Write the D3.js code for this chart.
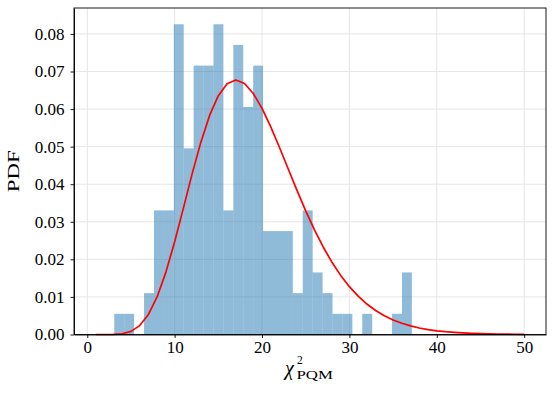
<!DOCTYPE html>
<meta charset="utf-8">
<style>
body { margin: 0; background: #fff; }
.grid line { stroke: #e6e6e6; stroke-width: 1; }
.axis path, .axis line { stroke: #000; stroke-width: 0.9; }
</style>
<svg width="555" height="397"></svg>
<script src="https://d3js.org/d3.v7.min.js"></script>
<script>

// histogram: 30 equal bins between binMin and binMax, counts per bin
var binMin = 3.09,
    binMax = 37.15;
var binCounts = [1, 1, 0, 2, 6, 6, 15, 9, 13, 13, 15, 6, 14, 11, 13,
                 5, 5, 5, 2, 6, 3, 2, 1, 1, 0, 1, 0, 0, 1, 3];

// red curve (chi-square pdf), read at x = 1..50
var curveX = [1, 2, 3, 4, 5, 6, 7, 8, 9, 10, 11, 12, 13, 14, 15, 16, 17, 18, 19, 20,
              21, 22, 23, 24, 25, 26, 27, 28, 29, 30, 31, 32, 33, 34, 35, 36, 37, 38, 39, 40,
              41, 42, 43, 44, 45, 46, 47, 48, 49, 50];
var curveY = [0.0000000, 0.0000015, 0.0000293, 0.000205, 0.000830, 0.002372, 0.005332, 0.010063,
              0.016609, 0.024670, 0.033638, 0.042745, 0.051196, 0.058297, 0.063558, 0.066724,
              0.067752, 0.066804, 0.064152, 0.060175, 0.055255, 0.049772, 0.044047, 0.038362,
              0.032919, 0.027865, 0.023293, 0.019245, 0.015730, 0.012727, 0.010201, 0.008104,
              0.006384, 0.004991, 0.003873, 0.002985, 0.002285, 0.001739, 0.001315, 0.000989,
              0.000740, 0.000551, 0.000408, 0.000301, 0.000221, 0.000162, 0.000118, 0.0000853,
              0.0000617, 0.0000445];

var xTicks = [0, 10, 20, 30, 40, 50];
var yTicks = [0, 0.01, 0.02, 0.03, 0.04, 0.05, 0.06, 0.07, 0.08];

var svg = d3.select("svg"),
    margin = {top: 8, right: 9, bottom: 62.5, left: 74},
    width = +svg.attr("width") - margin.left - margin.right,
    height = +svg.attr("height") - margin.top - margin.bottom;

var serif = "'Liberation Serif'";

var nBins = binCounts.length,
    binW = (binMax - binMin) / nBins,
    total = d3.sum(binCounts);

var bins = binCounts.map(function(c, i) {
  return {x0: binMin + i * binW, x1: binMin + (i + 1) * binW, d: c / (total * binW)};
});

var x = d3.scaleLinear().domain([-1.52, 52.5]).range([0, width]);
var y = d3.scaleLinear().domain([0, 0.0869]).range([height, 0]);

var g = svg.append("g").attr("transform", "translate(" + margin.left + "," + margin.top + ")");

// grid
var grid = g.append("g").attr("class", "grid");
grid.selectAll("line.v").data(xTicks).enter().append("line").attr("class", "v")
  .attr("x1", d => x(d)).attr("x2", d => x(d)).attr("y1", 0).attr("y2", height);
grid.selectAll("line.h").data(yTicks).enter().append("line").attr("class", "h")
  .attr("x1", 0).attr("x2", width).attr("y1", d => y(d)).attr("y2", d => y(d));

// bars
g.append("g")
  .selectAll("rect").data(bins.filter(b => b.d > 0)).enter().append("rect")
  .attr("x", d => x(d.x0))
  .attr("width", d => x(d.x1) - x(d.x0))
  .attr("y", d => y(d.d))
  .attr("height", d => height - y(d.d))
  .attr("fill", "#1f77b4")
  .attr("fill-opacity", 0.5);

// curve
var line = d3.line().x(d => x(d[0])).y(d => y(d[1]));
g.append("path")
  .datum(d3.zip(curveX, curveY))
  .attr("d", line)
  .attr("fill", "none")
  .attr("stroke", "red")
  .attr("stroke-width", 1.7)
  .attr("stroke-linejoin", "round");

// axes
var xAxis = g.append("g").attr("class", "axis")
  .attr("transform", "translate(0," + height + ")")
  .call(d3.axisBottom(x).tickValues(xTicks).tickSize(3.5).tickPadding(3).tickSizeOuter(0));
xAxis.selectAll("text").style("font-family", serif).style("font-size", "17px");

var yAxis = g.append("g").attr("class", "axis")
  .call(d3.axisLeft(y).tickValues(yTicks).tickFormat(d3.format(".2f")).tickSize(3.5).tickPadding(6).tickSizeOuter(0));
yAxis.selectAll("text").style("font-family", serif).style("font-size", "17px");

// frame
g.append("rect")
  .attr("width", width).attr("height", height)
  .attr("fill", "none").attr("stroke", "#000").attr("stroke-width", 0.9);

// labels
svg.append("text")
  .attr("transform", "translate(19," + (margin.top + height / 2) + ") rotate(-90)")
  .attr("text-anchor", "middle")
  .attr("textLength", 42).attr("lengthAdjust", "spacingAndGlyphs")
  .style("font-family", serif)
  .style("font-size", "17.5px")
  .text("PDF");

svg.append("text").style("font-family", serif).style("font-size", "20px").style("font-style", "italic")
  .attr("x", 285).attr("y", 375).text("χ");
svg.append("text").style("font-family", serif).style("font-size", "11.5px")
  .attr("x", 297).attr("y", 364).text("2");
svg.append("text").style("font-family", serif).style("font-size", "12.5px")
  .attr("x", 296.5).attr("y", 378.5)
  .attr("textLength", 36.5).attr("lengthAdjust", "spacingAndGlyphs").text("PQM");

</script>
